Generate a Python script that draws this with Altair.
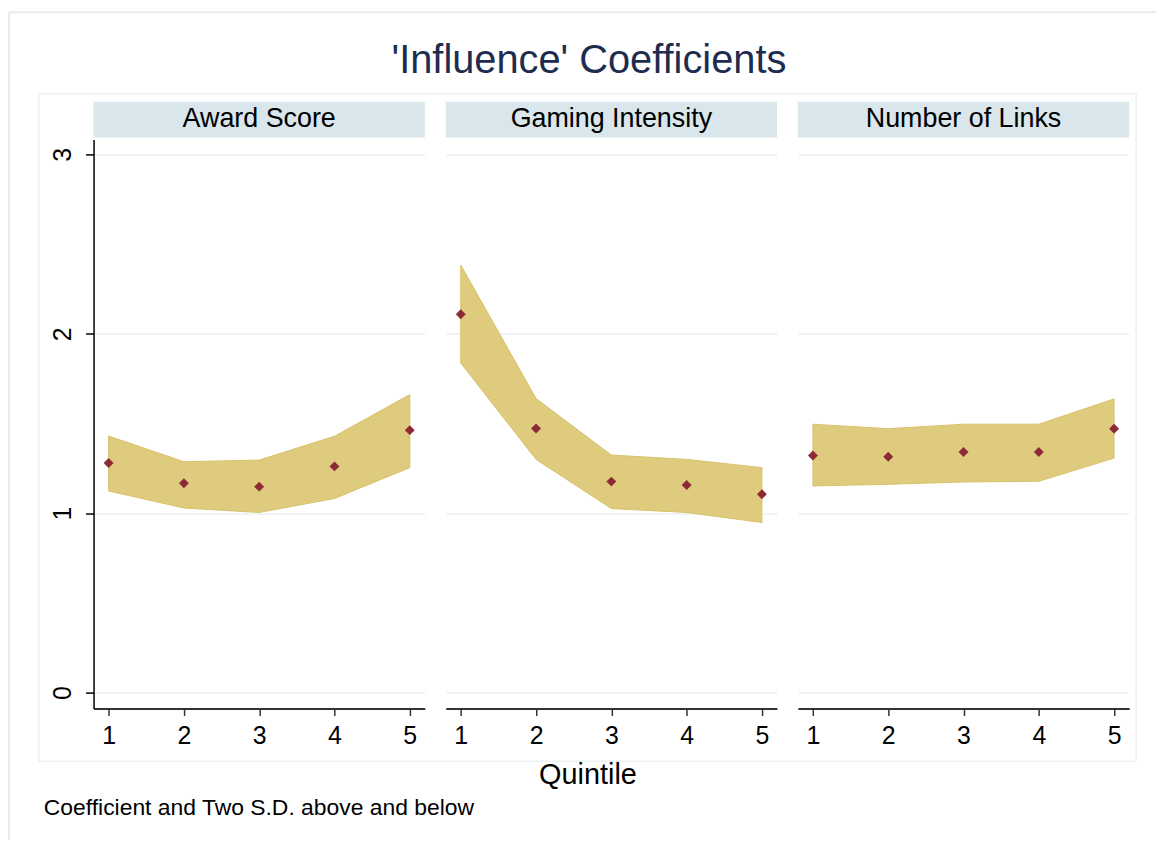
import altair as alt
import pandas as pd

# ---- data ----
panels = ["Award Score", "Gaming Intensity", "Number of Links"]
quintiles = [1, 2, 3, 4, 5]

award_coef = [1.28, 1.167, 1.148, 1.261, 1.463]
award_lo = [1.124, 1.029, 1.004, 1.082, 1.254]
award_hi = [1.43, 1.287, 1.296, 1.429, 1.661]

gaming_coef = [2.109, 1.472, 1.176, 1.157, 1.106]
gaming_lo = [1.837, 1.30, 1.026, 1.004, 0.948]
gaming_hi = [2.383, 1.639, 1.324, 1.30, 1.254]

links_coef = [1.322, 1.315, 1.341, 1.341, 1.471]
links_lo = [1.152, 1.161, 1.174, 1.178, 1.307]
links_hi = [1.496, 1.471, 1.496, 1.496, 1.637]

y_ticks = [0, 1, 2, 3]
chart_title = ["'Influence' Coefficients"]
x_title = ["Quintile"]
note = ["Coefficient and Two S.D. above and below"]

# ---- styling ----
FONT = "Liberation Sans"
W, H = 333, 572
YDOM = [-0.0887, 3.083]
XDOM = [0.8, 5.2]
BAND = "#dfcb7e"
BAND_EDGE = "#d8c168"
PT = "#8c2b36"
HDR = "#d9e6ec"
GRID = "#e8f0f3"
FRAME_OUT = "#e6edf0"
FRAME_IN = "#ebf1f4"


def panel(i, name, coef, lo, hi):
    df = pd.DataFrame({"Quintile": quintiles, "coef": coef, "lo": lo, "hi": hi})
    xaxis = alt.Axis(values=quintiles, title=None, grid=False, format="d",
                     tickSize=7, tickColor="#333333", tickWidth=1.5,
                     domainColor="#333333", domainWidth=1.8,
                     labelFontSize=25, labelColor="#000000", labelPadding=8,
                     labelFont=FONT)
    if i == 0:
        yaxis = alt.Axis(values=y_ticks, title=None, grid=True, gridColor=GRID,
                         gridWidth=1.5, domainColor="#000000", domainWidth=1.5,
                         tickColor="#000000", tickSize=8, tickWidth=1.5,
                         labelAngle=270, labelFontSize=25, labelPadding=10,
                         labelColor="#000000", labelFont=FONT)
    else:
        yaxis = alt.Axis(values=y_ticks, title=None, grid=True, gridColor=GRID,
                         gridWidth=1.5, domain=False, ticks=False, labels=False)
    xs = alt.Scale(domain=XDOM, nice=False, zero=False)
    ys = alt.Scale(domain=YDOM, nice=False, zero=False)

    band = alt.Chart(df).mark_area(
        color=BAND, stroke=BAND_EDGE, strokeWidth=1, opacity=1
    ).encode(
        x=alt.X("Quintile:Q", scale=xs, axis=xaxis),
        y=alt.Y("lo:Q", scale=ys, axis=yaxis),
        y2="hi:Q",
    )
    pts = alt.Chart(df).mark_point(
        shape="diamond", filled=True, size=100, color=PT, opacity=1
    ).encode(
        x=alt.X("Quintile:Q", scale=xs, axis=xaxis),
        y=alt.Y("coef:Q", scale=ys, axis=yaxis),
    )

    hdr_df = pd.DataFrame({"panel": [name]})
    hdr_rect = alt.Chart(hdr_df).mark_rect(color=HDR).encode(
        x=alt.value(0), x2=alt.value(W), y=alt.value(-38), y2=alt.value(-2)
    )
    hdr_text = alt.Chart(hdr_df).mark_text(
        font=FONT, fontSize=27, color="#000000", baseline="alphabetic", align="center"
    ).encode(x=alt.value(W / 2), y=alt.value(-13), text="panel:N")

    layers = [hdr_rect, hdr_text, band, pts]

    if i == 0:
        frame_df = pd.DataFrame({"k": [0]})
        top_line = alt.Chart(frame_df).mark_rule(
            stroke=FRAME_OUT, strokeWidth=2
        ).encode(x=alt.value(-85), x2=alt.value(1068), y=alt.value(-128))
        left_line = alt.Chart(frame_df).mark_rule(
            stroke=FRAME_OUT, strokeWidth=2
        ).encode(x=alt.value(-85), y=alt.value(-128), y2=alt.value(704))
        inner = alt.Chart(frame_df).mark_rect(
            fillOpacity=0, stroke=FRAME_IN, strokeWidth=1.5
        ).encode(x=alt.value(-55), x2=alt.value(1048), y=alt.value(-46), y2=alt.value(625))
        title = alt.Chart(pd.DataFrame({"t": chart_title})).mark_text(
            font=FONT, fontSize=40, color="#1e2c50", baseline="alphabetic", align="center"
        ).encode(x=alt.value(498), y=alt.value(-67), text="t:N")
        xt = alt.Chart(pd.DataFrame({"t": x_title})).mark_text(
            font=FONT, fontSize=29, color="#000000", baseline="alphabetic", align="center"
        ).encode(x=alt.value(497), y=alt.value(648), text="t:N")
        nt = alt.Chart(pd.DataFrame({"t": note})).mark_text(
            font=FONT, fontSize=23, color="#000000", baseline="alphabetic", align="left"
        ).encode(x=alt.value(-50), y=alt.value(679), text="t:N")
        layers = [top_line, left_line, inner, title, xt, nt] + layers

    return alt.layer(*layers).properties(width=W, height=H)


p1 = panel(0, panels[0], award_coef, award_lo, award_hi)
p2 = panel(1, panels[1], gaming_coef, gaming_lo, gaming_hi)
p3 = panel(2, panels[2], links_coef, links_lo, links_hi)

chart = alt.hconcat(p1, p2, p3, spacing=21, bounds="flush").properties(
    padding={"left": 0, "top": 1, "right": 0, "bottom": 0},
    background="#ffffff",
).configure(font=FONT).configure_view(stroke=None)

chart.save("out.html", embed_options={"renderer": "svg", "actions": False})
